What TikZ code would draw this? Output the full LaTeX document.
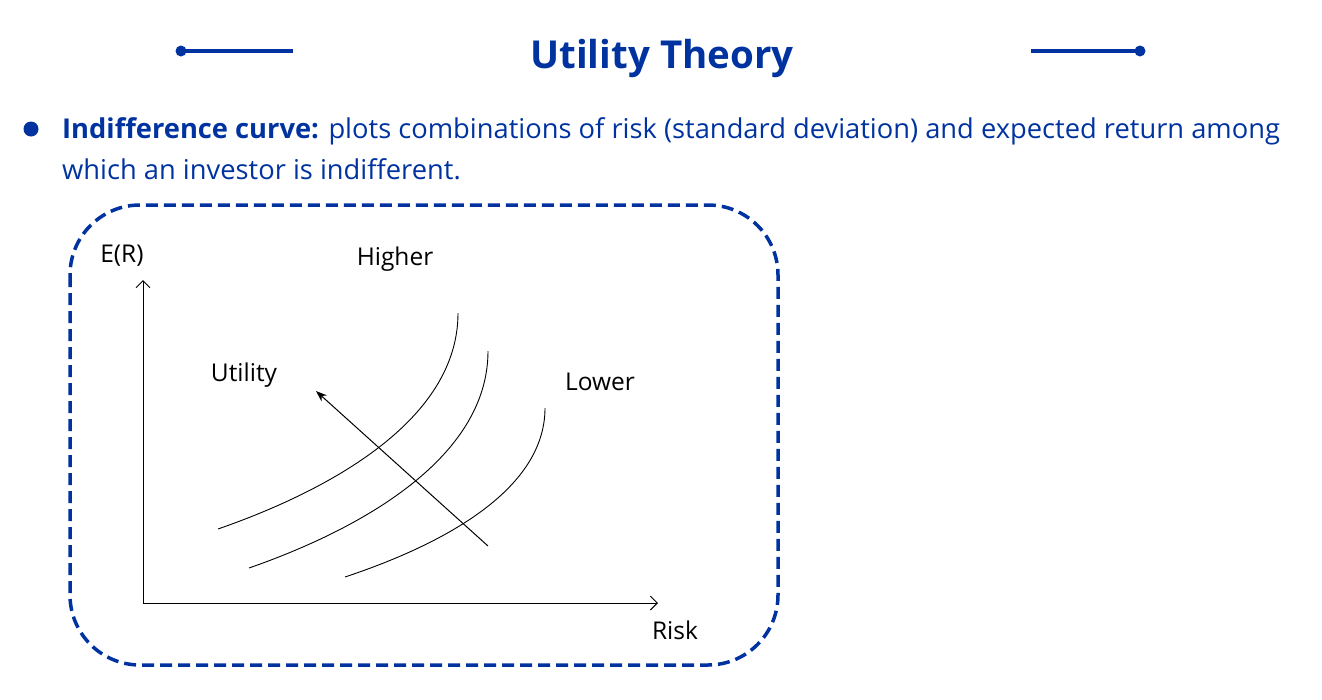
\documentclass[tikz,border=0pt]{standalone}
\usepackage{fontspec}
\setmainfont{Open Sans}
\usetikzlibrary{arrows.meta}
\definecolor{myblue}{RGB}{0,51,160}
\tikzset{
  curve/.style={line width=0.9pt, black},
  axis/.style={line width=1pt, black, -{Straight Barb[length=7pt,width=14pt,line width=1pt]}},
  lbl/.style={font=\fontsize{24.5}{28}\selectfont, text=black, inner sep=0pt},
  body/.style={font=\fontsize{27.3}{32}\selectfont, text=myblue, inner sep=0pt, anchor=base west},
}
\begin{document}
\begin{tikzpicture}[x=1pt,y=-1pt]
\useasboundingbox (0,0) rectangle (1322,699);
% title
\node[font=\fontsize{38.5}{44}\selectfont\bfseries, text=myblue, inner sep=0pt, anchor=base] (title) at (662,68) {Utility Theory};
\coordinate (l1) at (181,51); \coordinate (l2) at (293,51);
\coordinate (r1) at (1031,51); \coordinate (r2) at (1140,51);
\draw[myblue, line width=3.5pt] (l1) -- (l2);
\fill[myblue] (l1) circle (5.5);
\draw[myblue, line width=3.5pt] (r1) -- (r2);
\fill[myblue] (r2) circle (5.5);
% bullet
\fill[myblue] (31,129) circle (7.5);
\node[body] (t1) at (62,138) {\textbf{Indifference curve:} plots combinations of risk (standard deviation) and expected return among};
\node[body] (t2) at (62,179) {which an investor is indifferent.};
% dashed box
\draw[myblue, line width=3.5pt, dash pattern=on 12pt off 6pt, rounded corners=70pt] (70,205) rectangle (778,665);
% axes
\coordinate (O) at (143,603);
\coordinate (Ytop) at (143,280);
\coordinate (Xend) at (658,603);
\draw[axis] (O) -- (Ytop);
\draw[axis] (O) -- (Xend);
\node[lbl] (er) at (122,256) {E(R)};
\node[lbl] (risk) at (675,630) {Risk};
\node[lbl] (higher) at (395,259) {Higher};
\node[lbl] (util) at (244,375) {Utility};
\node[lbl] (lower) at (600,382) {Lower};
% curves
\coordinate (c1a) at (218,529); \coordinate (c1b) at (458,313);
\coordinate (c2a) at (249,568); \coordinate (c2b) at (488,351);
\coordinate (c3a) at (345,577); \coordinate (c3b) at (545,408);
\draw[curve] (c1a) .. controls (330,490) and (458,420) .. (c1b);
\draw[curve] (c2a) .. controls (361,529) and (488,458) .. (c2b);
\draw[curve] (c3a) .. controls (438,546) and (545,492) .. (c3b);
% utility arrow
\coordinate (ua) at (488,546); \coordinate (ub) at (316,391);
\draw[line width=1pt, -{Stealth[length=11pt,width=8pt]}] (ua) -- (ub);
\end{tikzpicture}
\end{document}
